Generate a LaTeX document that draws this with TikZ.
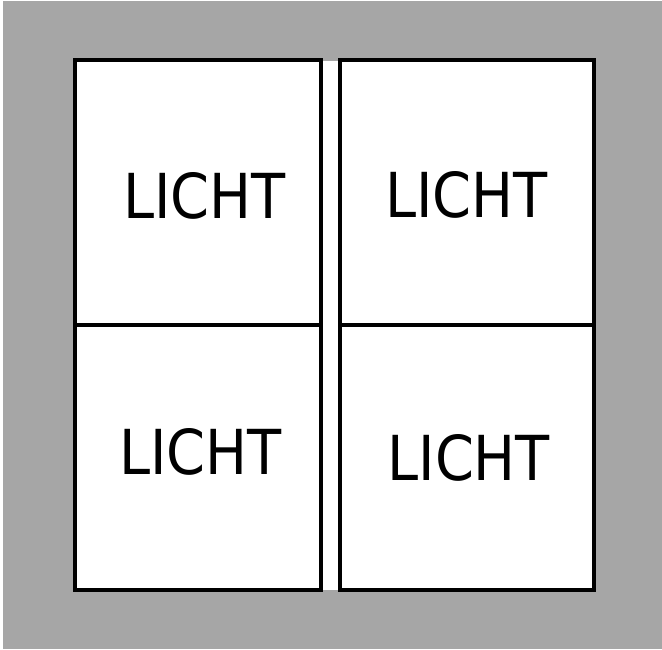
\documentclass[tikz,border=0pt]{standalone}
\usepackage{fontspec}
\setmainfont{DejaVu Sans Condensed}
\definecolor{bggray}{HTML}{A6A6A6}
\begin{document}
\begin{tikzpicture}[x=1pt,y=-1pt,
  cell/.style={draw=black,fill=white,line width=3.5pt,inner sep=0pt,outer sep=0pt,rectangle},
  lbl/.style={inner sep=0pt,outer sep=0pt,font=\fontsize{62}{62}\selectfont}]
\useasboundingbox (0,0) rectangle (662,649);
\fill[white] (0,0) rectangle (662,649);
\fill[bggray] (3,1) rectangle (662,649);
\fill[white] (321,61) rectangle (340,590);
\node[cell,minimum width=246pt,minimum height=265pt] (tl) at (198,192.5) {};
\node[cell,minimum width=246pt,minimum height=265pt] (bl) at (198,457.5) {};
\node[cell,minimum width=254pt,minimum height=265pt] (tr) at (467,192.5) {};
\node[cell,minimum width=254pt,minimum height=265pt] (br) at (467,457.5) {};
\node[lbl] (ltl) at (204.3,195.8) {LICHT};
\node[lbl] (ltr) at (466.7,195) {LICHT};
\node[lbl] (lbl) at (200.5,451.8) {LICHT};
\node[lbl] (lbr) at (468.8,457.5) {LICHT};
\end{tikzpicture}
\end{document}
